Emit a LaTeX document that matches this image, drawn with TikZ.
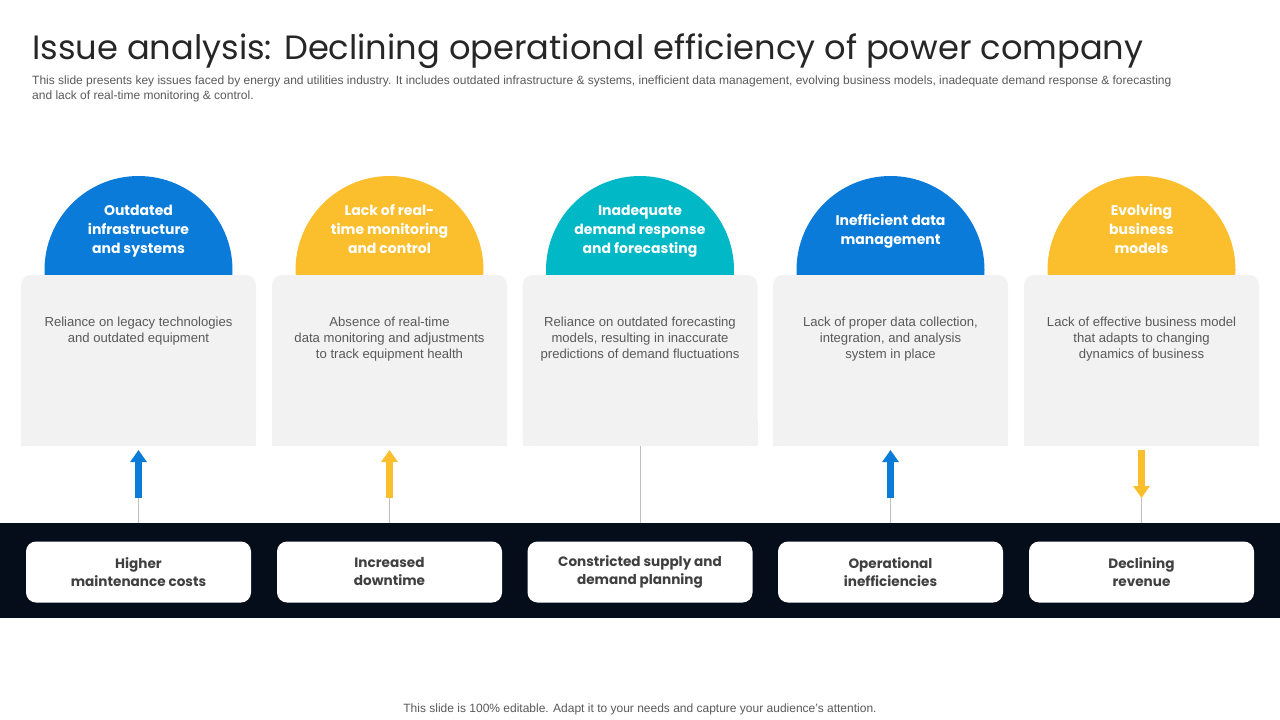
\documentclass[tikz,border=0pt]{standalone}
\usepackage{fontspec}
\setmainfont{Liberation Sans}
\newfontfamily\gothic{Poppins}
\usetikzlibrary{arrows.meta}
\definecolor{cblue}{HTML}{0A7BD8}
\definecolor{cyel}{HTML}{FBBF2D}
\definecolor{cteal}{HTML}{00B8C6}
\definecolor{cgray}{HTML}{F2F2F2}
\definecolor{cband}{HTML}{050D1A}
\definecolor{ctxt}{HTML}{595959}
\definecolor{ctitle}{HTML}{262626}
\definecolor{cdark}{HTML}{404040}
\definecolor{cline}{HTML}{BFBFBF}
\tikzset{
  graybox/.style={fill=cgray, rounded corners=10pt, minimum width=235pt, minimum height=171pt, inner sep=0pt},
  dome/.style={circle, fill=#1, minimum size=188pt, inner sep=0pt},
  headtxt/.style={text=white, align=center, font=\gothic\bfseries\fontsize{14}{19}\selectfont},
  bodytxt/.style={text=ctxt, align=center, font=\fontsize{13.1}{16}\selectfont},
  resbox/.style={fill=white, rounded corners=10pt, minimum width=225pt, minimum height=61pt, inner sep=0pt, align=center, text=cdark, font=\gothic\bfseries\fontsize{13.6}{18}\selectfont},
  thinline/.style={draw=cline, line width=1pt},
  bigarrow/.style={draw=#1, line width=7pt, -{Triangle[width=16pt,length=12pt]}},
}
\begin{document}
\begin{tikzpicture}[x=1pt,y=-1pt]
\useasboundingbox (0,0) rectangle (1280,720);
% title
\node[anchor=base west, inner sep=0pt, text=ctitle, font=\gothic\fontsize{33.7}{40}\selectfont] (title) at (32,59) {Issue analysis: Declining operational efficiency of power company};
\node[anchor=base west, inner sep=0pt, text=ctxt, align=left, font=\fontsize{12}{14.5}\selectfont] (sub) at (32,99) {This slide presents key issues faced by energy and utilities industry. It includes outdated infrastructure \& systems, inefficient data management, evolving business models, inadequate demand response \& forecasting\\and lack of real-time monitoring \& control.};
% domes
\node[dome=cblue] (d1) at (138.5,270) {};
\node[dome=cyel] (d2) at (389.5,270) {};
\node[dome=cteal] (d3) at (640,270) {};
\node[dome=cblue] (d4) at (890.5,270) {};
\node[dome=cyel] (d5) at (1141.5,270) {};
% gray boxes
\foreach \i/\x in {1/138.5,2/389.5,3/640,4/890.5,5/1141.5}{
  \node[graybox] (g\i) at (\x,360.5) {};
  \fill[cgray] (\x-117.5,420) rectangle (\x+117.5,446);
}
% headings
\node[headtxt] (h1) at (138.5,231) {Outdated\\infrastructure\\and systems};
\node[headtxt] (h2) at (389.5,229) {Lack of real-\\time monitoring\\and control};
\node[headtxt] (h3) at (640,231) {Inadequate\\demand response\\and forecasting};
\node[headtxt] (h4) at (890.5,231) {Inefficient data\\management};
\node[headtxt] (h5) at (1141.5,229) {Evolving\\business\\models};
% body
\node[bodytxt] (t1) at (138.5,331) {Reliance on legacy technologies\\and outdated equipment};
\node[bodytxt] (t2) at (389.5,339) {Absence of real-time\\data monitoring and adjustments\\to track equipment health};
\node[bodytxt] (t3) at (640,339) {Reliance on outdated forecasting\\models, resulting in inaccurate\\predictions of demand fluctuations};
\node[bodytxt] (t4) at (890.5,339) {Lack of proper data collection,\\integration, and analysis\\system in place};
\node[bodytxt] (t5) at (1141.5,339) {Lack of effective business model\\that adapts to changing\\dynamics of business};
% band
\node[fill=cband, minimum width=1280pt, minimum height=95pt, inner sep=0pt] (band) at (640,570.5) {};
% result boxes
\node[resbox] (r1) at (138.5,572) {Higher\\maintenance costs};
\node[resbox] (r2) at (389.5,572) {Increased\\downtime};
\node[resbox] (r3) at (640,572) {Constricted supply and\\demand planning};
\node[resbox] (r4) at (890.5,572) {Operational\\inefficiencies};
\node[resbox] (r5) at (1141.5,572) {Declining\\revenue};
% connectors
\coordinate (a1) at (138.5,498); \coordinate (b1) at (138.5,450);
\coordinate (a2) at (389.5,498); \coordinate (b2) at (389.5,450);
\coordinate (a4) at (890.5,498); \coordinate (b4) at (890.5,450);
\coordinate (a5) at (1141.5,498); \coordinate (b5) at (1141.5,450);
\draw[thinline] (a1) -- (a1 |- band.north);
\draw[thinline] (a2) -- (a2 |- band.north);
\draw[thinline] (g3.south) -- (g3.south |- band.north);
\draw[thinline] (a4) -- (a4 |- band.north);
\draw[thinline] (a5) -- (a5 |- band.north);
\draw[bigarrow=cblue] (a1) -- (b1);
\draw[bigarrow=cyel] (a2) -- (b2);
\draw[bigarrow=cblue] (a4) -- (b4);
\draw[bigarrow=cyel] (b5) -- (a5);
% footer
\node[anchor=base, inner sep=0pt, text=ctxt, font=\fontsize{12}{14}\selectfont] (foot) at (640,712) {This slide is 100\% editable. Adapt it to your needs and capture your audience's attention.};
\end{tikzpicture}
\end{document}
